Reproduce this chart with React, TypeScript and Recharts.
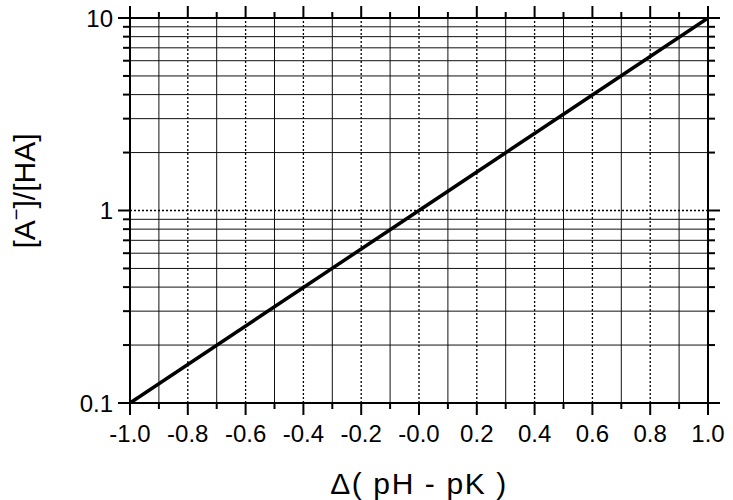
import React from 'react';
import { ComposedChart, Line, XAxis, YAxis, ReferenceLine } from 'recharts';

// ratio of base to acid versus pH offset from pK
const deltaPH = [-1.0, 0.0, 1.0];
const ratio = [0.1, 1, 10];

const xTicks = [
  -1.0, -0.9, -0.8, -0.7, -0.6, -0.5, -0.4, -0.3, -0.2, -0.1, 0.0,
  0.1, 0.2, 0.3, 0.4, 0.5, 0.6, 0.7, 0.8, 0.9, 1.0,
];
const xMajor = [-1.0, -0.8, -0.6, -0.4, -0.2, 0.0, 0.2, 0.4, 0.6, 0.8, 1.0];
const xMajorLabels = ['-1.0', '-0.8', '-0.6', '-0.4', '-0.2', '-0.0', '0.2', '0.4', '0.6', '0.8', '1.0'];
const xSolidGrid = [-0.9, -0.7, -0.5, -0.3, -0.1, 0.1, 0.3, 0.5, 0.7, 0.9];
const xDottedGrid = [-0.8, -0.6, -0.4, -0.2, 0.0, 0.2, 0.4, 0.6, 0.8];

const yTicks = [0.1, 0.2, 0.3, 0.4, 0.5, 0.6, 0.7, 0.8, 0.9, 1, 2, 3, 4, 5, 6, 7, 8, 9, 10];
const yMajor = [0.1, 1, 10];
const yMajorLabels = ['0.1', '1', '10'];
const ySolidGrid = [0.2, 0.3, 0.4, 0.5, 0.6, 0.7, 0.8, 0.9, 2, 3, 4, 5, 6, 7, 8, 9];
const yDottedGrid = [1];

const data = deltaPH.map((x, i) => ({ x, y: ratio[i] }));

const FONT = 'Arial, "Liberation Sans", Helvetica, sans-serif';
const majorIndex = (list: number[], v: number) => list.findIndex(m => Math.abs(m - v) < 1e-6);

// plot frame in page pixels
const LEFT = 130;
const TOP = 18;
const BOTTOM = 403;
const RIGHT = 708;

// bottom tick, its mirror on the top edge, and the label
const XTick = (props: any) => {
  const { x, payload } = props;
  const i = majorIndex(xMajor, payload.value);
  const len = i >= 0 ? 12 : 6;
  return (
    <g>
      <line x1={x} x2={x} y1={BOTTOM} y2={BOTTOM + len} stroke="#000" strokeWidth={2} />
      <line x1={x} x2={x} y1={TOP} y2={TOP - len} stroke="#000" strokeWidth={2} />
      {i >= 0 ? (
        <text x={x} y={BOTTOM + 39} textAnchor="middle" fontSize={24} fontFamily={FONT} fill="#000">
          {xMajorLabels[i]}
        </text>
      ) : null}
      {i === 5 ? (
        <text x={x} y={494} textAnchor="middle" fontSize={30} letterSpacing={1.6} fontFamily={FONT} fill="#000">
          Δ( pH - pK )
        </text>
      ) : null}
    </g>
  );
};

// left tick, its mirror on the right edge, and the label
const YTick = (props: any) => {
  const { y, payload } = props;
  const i = majorIndex(yMajor, payload.value);
  const len = i >= 0 ? 12 : 7;
  return (
    <g>
      <line x1={LEFT} x2={LEFT - len} y1={y} y2={y} stroke="#000" strokeWidth={2} />
      <line x1={RIGHT} x2={RIGHT + len} y1={y} y2={y} stroke="#000" strokeWidth={2} />
      {i >= 0 ? (
        <text x={LEFT - 17} y={y + 8.5} textAnchor="end" fontSize={24} fontFamily={FONT} fill="#000">
          {yMajorLabels[i]}
        </text>
      ) : null}
      {i === 1 ? (
        <text
          x={35}
          y={191}
          transform="rotate(-90, 35, 191)"
          textAnchor="middle"
          fontSize={30}
          fontFamily={FONT}
          fill="#000"
        >
          [A<tspan dy={-12} fontSize={20}>−</tspan>
          <tspan dy={12}>]/[HA]</tspan>
        </text>
      ) : null}
    </g>
  );
};

export default function App() {
  return (
    <div style={{ position: 'absolute', left: 0, top: 0 }}>
      <ComposedChart width={733} height={500} data={data} margin={{ top: TOP, right: 733 - RIGHT, bottom: 0, left: 0 }}>
        <XAxis
          xAxisId="b"
          type="number"
          dataKey="x"
          domain={[-1, 1]}
          ticks={xTicks}
          interval={0}
          height={500 - BOTTOM}
          tickSize={0}
          tickMargin={0}
          tickLine={false}
          axisLine={false}
          tick={XTick}
        />
        <YAxis
          yAxisId="l"
          scale="log"
          domain={[0.1, 10]}
          allowDataOverflow
          ticks={yTicks}
          interval={0}
          width={LEFT}
          tickSize={0}
          tickMargin={0}
          tickLine={false}
          axisLine={false}
          tick={YTick}
        />
        {xSolidGrid.map(v => (
          <ReferenceLine key={`xs${v}`} x={v} xAxisId="b" yAxisId="l" stroke="#111" strokeWidth={1} />
        ))}
        {xDottedGrid.map(v => (
          <ReferenceLine key={`xd${v}`} x={v} xAxisId="b" yAxisId="l" stroke="#000" strokeWidth={1.3} strokeDasharray="2 2" />
        ))}
        {ySolidGrid.map(v => (
          <ReferenceLine key={`ys${v}`} y={v} xAxisId="b" yAxisId="l" stroke="#111" strokeWidth={1} />
        ))}
        {yDottedGrid.map(v => (
          <ReferenceLine key={`yd${v}`} y={v} xAxisId="b" yAxisId="l" stroke="#000" strokeWidth={1.3} strokeDasharray="2 2" />
        ))}
        {/* frame */}
        <ReferenceLine y={10} xAxisId="b" yAxisId="l" stroke="#000" strokeWidth={2} />
        <ReferenceLine y={0.1} xAxisId="b" yAxisId="l" stroke="#000" strokeWidth={2} />
        <ReferenceLine x={-1} xAxisId="b" yAxisId="l" stroke="#000" strokeWidth={2} />
        <ReferenceLine x={1} xAxisId="b" yAxisId="l" stroke="#000" strokeWidth={2} />
        <Line
          xAxisId="b"
          yAxisId="l"
          type="linear"
          dataKey="y"
          stroke="#000"
          strokeWidth={3.5}
          dot={false}
          isAnimationActive={false}
        />
      </ComposedChart>
    </div>
  );
}
